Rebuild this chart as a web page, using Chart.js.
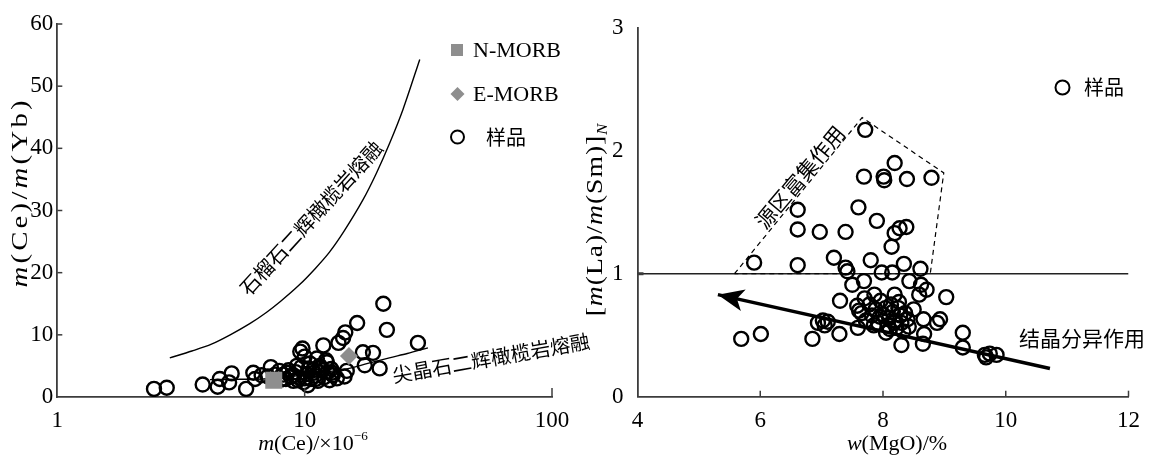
<!DOCTYPE html>
<html>
<head>
<meta charset="utf-8">
<title>Ce/Yb - Ce and La/Sm - MgO</title>
<script src="https://cdn.jsdelivr.net/npm/chart.js@4.4.1/dist/chart.umd.min.js"></script>
<style>
  body { margin: 0; background: #fff; }
  #wrap { position: relative; width: 1150px; height: 456px; overflow: hidden; }
  #wrap canvas { position: absolute; top: 0; }
  #left { left: 0; }
  #right { left: 570px; }
</style>
</head>
<body>
<div id="wrap">
  <canvas id="left" width="610" height="456"></canvas>
  <canvas id="right" width="580" height="456"></canvas>
</div>
<script>
// --- data: left panel, m(Ce)/m(Yb) vs m(Ce) ---
const leftXTicks = [1, 10, 100];
const leftYTicks = [0, 10, 20, 30, 40, 50, 60];

const sampleCe = [2.46, 2.77, 3.87, 4.45, 4.54, 4.95, 5.07, 5.8, 6.2, 6.3, 6.7, 7.3, 7.1, 7.9, 8.2, 8.4, 8.6, 8.8,
  9.0, 9.2, 9.5, 9.6, 9.8, 9.7, 9.9, 10.2, 10.3, 10.5, 10.6, 10.8, 11.0, 11.2, 11.3, 11.6, 11.9, 12.0, 12.3, 12.4,
  12.6, 12.2, 13.0, 13.5, 13.7, 14.3, 14.6, 14.8, 14.5, 16.3, 17.2, 17.5, 18.9, 20.1, 20.8, 21.5, 28.7, 8.0, 9.3,
  10.0, 11.5, 8.5, 9.0, 10.0, 10.9, 11.8, 12.8, 7.6, 9.4, 10.4, 11.1, 12.9];
const sampleCeYb = [1.3, 1.5, 2.0, 1.65, 2.9, 2.35, 3.8, 1.3, 3.9, 2.9, 3.5, 4.8, 3.3, 4.2, 3.6, 2.9, 4.3, 3.3,
  2.6, 4.0, 3.1, 7.3, 7.8, 4.8, 2.4, 3.7, 1.9, 5.4, 2.9, 4.3, 3.4, 6.2, 2.6, 4.7, 8.3, 3.2, 5.6, 4.0,
  2.7, 5.9, 3.5, 3.0, 8.7, 9.5, 10.4, 4.2, 3.3, 11.9, 7.2, 5.1, 7.1, 4.6, 15.0, 10.8, 8.7, 2.8, 5.0,
  6.5, 5.0, 3.9, 3.5, 3.0, 3.9, 4.3, 4.5, 3.6, 2.7, 4.6, 2.9, 3.9];

const nmorbCe = [7.5];
const nmorbCeYb = [2.7];
const emorbCe = [15.1];
const emorbCeYb = [6.6];

// melting curves
const garnetCe = [2.85, 3.5, 4.2, 5, 6, 7, 8, 9.5, 11, 12.6, 14.5, 17.2, 19.5, 22.1, 25, 29.2];
const garnetCeYb = [6.3, 7.4, 8.5, 10.0, 11.8, 13.6, 15.4, 18, 20.6, 23.3, 26.8, 31.7, 36, 40.9, 46.3, 54.3];
const spinelCe = [4.14, 5.5, 6.8, 8.5, 10, 12, 14.8, 18, 22, 26, 31.5];
const spinelCeYb = [2.8, 2.85, 2.9, 3.2, 3.6, 4.0, 4.5, 5.4, 6.3, 7.0, 7.9];

// --- data: right panel, [m(La)/m(Sm)]N vs w(MgO) ---
const rightXTicks = [4, 6, 8, 10, 12];
const rightYTicks = [0, 1, 2, 3];

const sampleMgO = [7.71, 8.19, 7.69, 8.01, 8.02, 8.39, 8.79, 6.61, 7.60, 6.61, 6.97, 7.39, 7.90, 8.19, 8.27, 8.38,
  8.14, 5.90, 6.61, 7.20, 7.80, 7.39, 7.42, 7.98, 8.15, 8.34, 8.61, 7.50, 7.69, 8.43, 8.62, 8.71, 8.59, 9.03, 7.30,
  5.69, 6.01, 6.85, 7.29, 6.94, 7.02, 7.10, 7.05, 7.59, 7.61, 8.11, 8.30, 8.65, 8.67, 8.66, 8.88, 8.93, 9.30, 9.30,
  9.66, 9.74, 9.85, 9.68, 7.86, 8.19, 7.58, 8.50,
  7.65, 7.72, 7.78, 7.82, 7.88, 7.92, 7.96, 8.0, 8.04, 8.08, 8.1, 8.13, 8.16, 8.2, 8.22, 8.25, 8.28, 8.3, 8.33,
  8.36, 8.4, 8.42, 7.85, 8.05, 7.7, 8.26, 7.95, 8.18];
const sampleLaSm = [2.17, 1.90, 1.79, 1.79, 1.76, 1.77, 1.78, 1.52, 1.54, 1.36, 1.34, 1.34, 1.43, 1.33, 1.37, 1.38,
  1.22, 1.09, 1.07, 1.13, 1.11, 1.05, 1.02, 1.01, 1.01, 1.08, 1.04, 0.91, 0.94, 0.94, 0.91, 0.87, 0.83, 0.81, 0.78,
  0.47, 0.51, 0.47, 0.51, 0.60, 0.62, 0.61, 0.58, 0.56, 0.70, 0.55, 0.42, 0.43, 0.51, 0.63, 0.60, 0.63, 0.52, 0.40,
  0.34, 0.35, 0.34, 0.32, 0.83, 0.83, 0.74, 0.71,
  0.68, 0.62, 0.75, 0.66, 0.71, 0.60, 0.78, 0.67, 0.72, 0.58, 0.64, 0.75, 0.69, 0.62, 0.56, 0.72, 0.66, 0.60, 0.53,
  0.68, 0.63, 0.57, 0.58, 0.52, 0.80, 0.77, 0.65, 0.60];

// source enrichment field (dashed outline) and fractional crystallisation trend
const enrichMgO = [5.58, 7.66, 8.99, 8.77, 5.58];
const enrichLaSm = [1.0, 2.27, 1.82, 1.0, 1.0];
const fracMgO = [10.72, 5.31];
const fracLaSm = [0.23, 0.83];
const refMgO = [4, 12];
const refLaSm = [1, 1];

// --- styles ---
const SERIF = '"Liberation Serif", "Times New Roman", serif';
const CJK = '"Noto Sans CJK SC", sans-serif';
const AXIS = '#3c3c3c';
const GREY = '#8e8e8e';
const tickFont = { family: SERIF, size: 23 };

const pts = (xs, ys) => xs.map((x, i) => ({ x: x, y: ys[i] }));

// mixed-style text: parts = [[text, flags]], flags 'i' italic, 'sup'/'sub' small raised/lowered
// opts.stretch scales along the text, opts.spacing adds room between characters
function drawRich(ctx, parts, x, y, size, rot, opts) {
  const stretch = (opts && opts.stretch) || 1;
  const spacing = ((opts && opts.spacing) || 0) / stretch;
  ctx.save();
  ctx.translate(x, y);
  ctx.rotate(rot || 0);
  ctx.scale(stretch, 1);
  ctx.textBaseline = 'middle';
  ctx.textAlign = 'left';
  ctx.fillStyle = '#000';
  const fontOf = p => {
    const small = p[1].includes('sup') || p[1].includes('sub');
    return (p[1].startsWith('i') ? 'italic ' : '') + (small ? size * 0.6 : size) + 'px ' + SERIF;
  };
  const glyphs = [];
  parts.forEach(p => [...p[0]].forEach(ch => glyphs.push([ch, p[1]])));
  let total = 0;
  glyphs.forEach(g => { ctx.font = fontOf(g); total += ctx.measureText(g[0]).width; });
  total += spacing * (glyphs.length - 1);
  let cx = -total / 2;
  glyphs.forEach(g => {
    ctx.font = fontOf(g);
    const dy = g[1].includes('sup') ? -size * 0.33 : g[1].includes('sub') ? size * 0.3 : 0;
    ctx.fillText(g[0], cx, dy);
    cx += ctx.measureText(g[0]).width + spacing;
  });
  ctx.restore();
}

function drawLabel(ctx, text, x, y, size, rot, align) {
  ctx.save();
  ctx.translate(x, y);
  ctx.rotate(rot || 0);
  ctx.font = size + 'px ' + CJK;
  ctx.fillStyle = '#000';
  ctx.textAlign = align || 'center';
  ctx.textBaseline = 'middle';
  ctx.fillText(text, 0, 0);
  ctx.restore();
}

function tickLine(ctx, x1, y1, x2, y2, w) {
  ctx.save();
  ctx.strokeStyle = AXIS;
  ctx.lineWidth = w;
  ctx.beginPath();
  ctx.moveTo(x1, y1);
  ctx.lineTo(x2, y2);
  ctx.stroke();
  ctx.restore();
}

const deg = d => d * Math.PI / 180;

// --- left panel decorations ---
const leftDecor = {
  id: 'leftDecor',
  afterDraw(chart) {
    const { ctx, chartArea: a, scales: { x, y } } = chart;
    leftYTicks.slice(1).forEach(v => tickLine(ctx, a.left, y.getPixelForValue(v), a.left + 5, y.getPixelForValue(v), 1.5));
    leftXTicks.slice(1).forEach(v => tickLine(ctx, x.getPixelForValue(v), a.bottom, x.getPixelForValue(v), a.bottom - 9, 1.5));

    drawRich(ctx, [['m', 'i'], ['(Ce)/×10', ''], ['−6', 'sup']], 313, 444, 22);
    drawRich(ctx, [['m', 'i'], ['(Ce)/', ''], ['m', 'i'], ['(Yb)', '']], 21, 194, 24, deg(-90),
      { stretch: 1.2, spacing: 3.2 });

    drawLabel(ctx, '石榴石二辉橄榄岩熔融', 311, 218, 20, deg(-47.7));
    drawLabel(ctx, '尖晶石二辉橄榄岩熔融', 491, 358, 20, deg(-10));

    // legend
    ctx.save();
    ctx.fillStyle = GREY;
    ctx.fillRect(451, 44, 12, 12);
    ctx.beginPath();
    ctx.moveTo(457.5, 87); ctx.lineTo(464.5, 94); ctx.lineTo(457.5, 101); ctx.lineTo(450.5, 94);
    ctx.closePath(); ctx.fill();
    ctx.strokeStyle = '#000'; ctx.lineWidth = 2;
    ctx.beginPath(); ctx.arc(457.5, 137, 6.5, 0, Math.PI * 2); ctx.stroke();
    ctx.fillStyle = '#000';
    ctx.font = '22px ' + SERIF;
    ctx.textBaseline = 'middle';
    ctx.fillText('N-MORB', 473, 51);
    ctx.fillText('E-MORB', 473, 95);
    ctx.restore();
    drawLabel(ctx, '样品', 486, 137, 20, 0, 'left');
  }
};

// --- right panel decorations ---
const rightDecor = {
  id: 'rightDecor',
  afterDraw(chart) {
    const { ctx, chartArea: a, scales: { x, y } } = chart;
    rightXTicks.slice(1).forEach(v => tickLine(ctx, x.getPixelForValue(v), a.bottom, x.getPixelForValue(v), a.bottom - 6, 1.5));
    tickLine(ctx, a.left, y.getPixelForValue(1), a.left + 6, y.getPixelForValue(1), 3);

    // arrow head at the end of the crystallisation trend
    const tx = x.getPixelForValue(fracMgO[1]), ty = y.getPixelForValue(fracLaSm[1]);
    const sx = x.getPixelForValue(fracMgO[0]), sy = y.getPixelForValue(fracLaSm[0]);
    const len = Math.hypot(tx - sx, ty - sy);
    const ux = (tx - sx) / len, uy = (ty - sy) / len;
    const L = 26, W = 11;
    ctx.save();
    ctx.fillStyle = '#000';
    ctx.beginPath();
    ctx.moveTo(tx, ty);
    ctx.lineTo(tx - ux * L - uy * W, ty - uy * L + ux * W);
    ctx.lineTo(tx - ux * L * 0.75, ty - uy * L * 0.75);
    ctx.lineTo(tx - ux * L + uy * W, ty - uy * L - ux * W);
    ctx.closePath();
    ctx.fill();
    ctx.restore();

    drawRich(ctx, [['w', 'i'], ['(MgO)/%', '']], 327, 444, 22);
    drawRich(ctx, [['[', ''], ['m', 'i'], ['(La)/', ''], ['m', 'i'], ['(Sm)]', ''], ['N', 'isub']], 26, 220, 24, deg(-90),
      { stretch: 1.15, spacing: 1 });

    drawLabel(ctx, '源区富集作用', 230, 177, 21, deg(-50));
    drawLabel(ctx, '结晶分异作用', 449, 338, 21, 0, 'left');

    ctx.save();
    ctx.strokeStyle = '#000'; ctx.lineWidth = 2;
    ctx.beginPath(); ctx.arc(492.5, 87.5, 7, 0, Math.PI * 2); ctx.stroke();
    ctx.restore();
    drawLabel(ctx, '样品', 514, 87, 20, 0, 'left');
  }
};

const circleStyle = {
  pointStyle: 'circle', pointRadius: 7, pointBorderWidth: 2.4,
  pointBorderColor: '#000', pointBackgroundColor: 'rgba(0,0,0,0)', showLine: false
};

const hiddenGrid = { display: false, drawTicks: false };

new Chart(document.getElementById('left'), {
  type: 'scatter',
  data: {
    datasets: [
      { label: 'N-MORB', data: pts(nmorbCe, nmorbCeYb), pointStyle: 'rect', pointRadius: 12,
        pointBackgroundColor: GREY, pointBorderWidth: 0 },
      { label: 'E-MORB', data: pts(emorbCe, emorbCeYb), pointStyle: 'rectRot', pointRadius: 9,
        pointBackgroundColor: GREY, pointBorderWidth: 0 },
      Object.assign({ label: '样品', data: pts(sampleCe, sampleCeYb) }, circleStyle),
      { label: '石榴石二辉橄榄岩熔融', data: pts(garnetCe, garnetCeYb), showLine: true, pointRadius: 0,
        borderColor: '#000', borderWidth: 1.4, tension: 0.3 },
      { label: '尖晶石二辉橄榄岩熔融', data: pts(spinelCe, spinelCeYb), showLine: true, pointRadius: 0,
        borderColor: '#000', borderWidth: 1.4, tension: 0.3 }
    ]
  },
  options: {
    responsive: false,
    animation: false,
    layout: { padding: { top: 24, right: 58, left: 0, bottom: 0 } },
    plugins: { legend: { display: false }, tooltip: { enabled: false } },
    scales: {
      x: {
        type: 'logarithmic', min: 1, max: 100,
        afterBuildTicks: s => { s.ticks = leftXTicks.map(v => ({ value: v })); },
        afterFit: s => { s.height = 59; },
        ticks: { font: tickFont, color: '#000', padding: 10, maxRotation: 0, callback: v => String(v) },
        grid: hiddenGrid,
        border: { color: AXIS, width: 1.8 }
      },
      y: {
        min: 0, max: 60,
        afterBuildTicks: s => { s.ticks = leftYTicks.map(v => ({ value: v })); },
        afterFit: s => { s.width = 57.3; },
        ticks: { font: tickFont, color: '#000', padding: 4 },
        grid: hiddenGrid,
        border: { color: AXIS, width: 1.8 }
      }
    }
  },
  plugins: [leftDecor]
});

new Chart(document.getElementById('right'), {
  type: 'scatter',
  data: {
    datasets: [
      { label: '结晶分异作用', data: pts(fracMgO, fracLaSm), showLine: true, pointRadius: 0,
        borderColor: '#000', borderWidth: 3.5 },
      Object.assign({ label: '样品', data: pts(sampleMgO, sampleLaSm) }, circleStyle),
      { label: '源区富集作用', data: pts(enrichMgO, enrichLaSm), showLine: true, pointRadius: 0,
        borderColor: '#000', borderWidth: 1.2, borderDash: [5, 4] },
      { label: 'ref', data: pts(refMgO, refLaSm), showLine: true, pointRadius: 0,
        borderColor: '#222', borderWidth: 1.3 }
    ]
  },
  options: {
    responsive: false,
    animation: false,
    layout: { padding: { top: 24, right: 11.4, left: 0, bottom: 0 } },
    plugins: { legend: { display: false }, tooltip: { enabled: false } },
    scales: {
      x: {
        min: 4, max: 12,
        afterBuildTicks: s => { s.ticks = rightXTicks.map(v => ({ value: v })); },
        afterFit: s => { s.height = 59.3; },
        ticks: { font: tickFont, color: '#000', padding: 10, maxRotation: 0 },
        grid: hiddenGrid,
        border: { color: AXIS, width: 1.8 }
      },
      y: {
        min: 0, max: 3,
        afterBuildTicks: s => { s.ticks = rightYTicks.map(v => ({ value: v })); },
        afterFit: s => { s.width = 67.5; },
        ticks: { font: tickFont, color: '#000', padding: 14 },
        grid: hiddenGrid,
        border: { color: AXIS, width: 1.8 }
      }
    }
  },
  plugins: [rightDecor]
});
</script>
</body>
</html>
